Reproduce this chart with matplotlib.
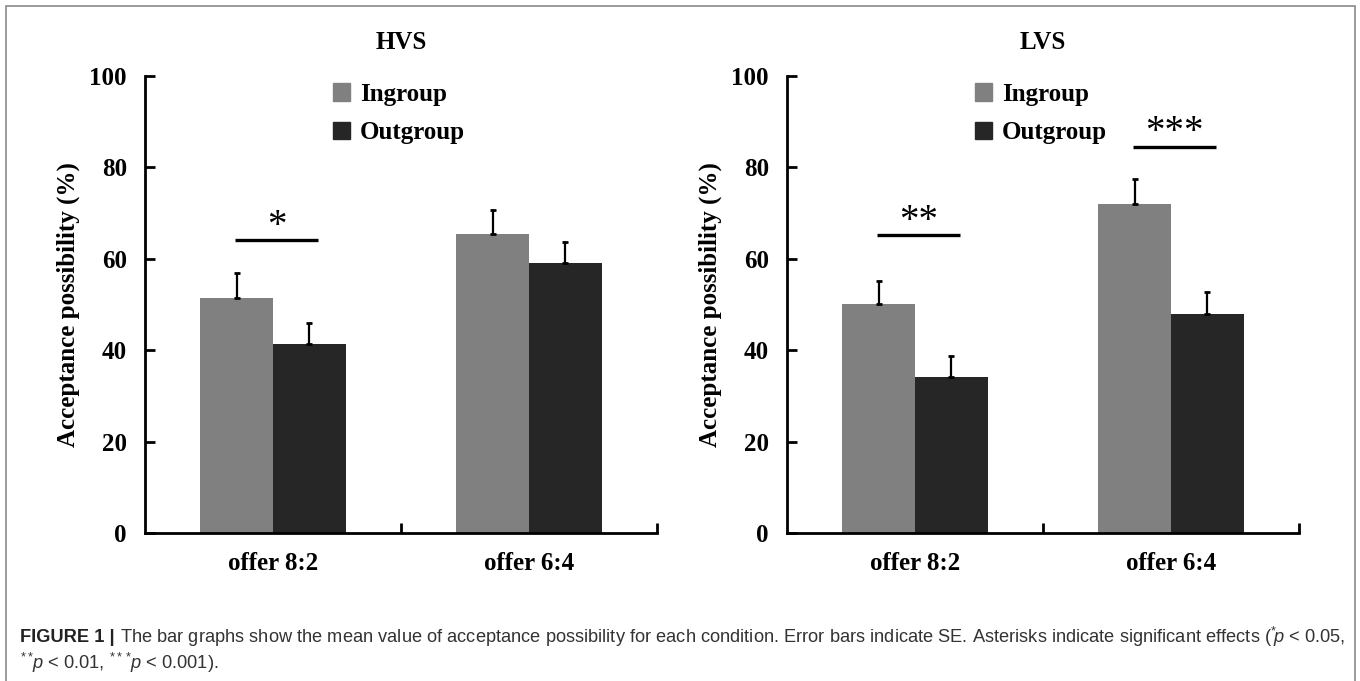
import matplotlib
matplotlib.use("Agg")
import matplotlib.pyplot as plt
from matplotlib.patches import Patch, Rectangle

# ---- data ----
offers = ["offer 8:2", "offer 6:4"]
groups = ["Ingroup", "Outgroup"]

hvs_in = [51.5, 65.4]
hvs_in_se = [5.5, 5.3]
hvs_out = [41.3, 59.1]
hvs_out_se = [4.6, 4.6]

lvs_in = [50.1, 72.0]
lvs_in_se = [5.0, 5.5]
lvs_out = [34.1, 47.9]
lvs_out_se = [4.6, 4.8]

# significance markers: (offer index, stars, height of the bar line)
hvs_sig = [(0, "*", 64.1)]
lvs_sig = [(0, "**", 65.2), (1, "***", 84.5)]

c_in = "#808080"
c_out = "#262626"

plt.rcParams["font.family"] = ["Liberation Serif"]
plt.rcParams["font.weight"] = "bold"
plt.rcParams["axes.labelweight"] = "bold"
plt.rcParams["mathtext.fontset"] = "custom"
plt.rcParams["mathtext.rm"] = "Liberation Sans:weight=normal"
plt.rcParams["mathtext.it"] = "Liberation Sans:style=italic:weight=normal"

fig = plt.figure(figsize=(13.6, 6.81), dpi=100)
W, H = 1360, 681


def panel(x0, title, v_in, se_in, v_out, se_out, sig):
    ax = fig.add_axes([x0 / W, (H - 533) / H, 512 / W, 457 / H])
    x = list(range(len(offers)))
    bw = 0.285
    xi = [p - bw / 2 for p in x]
    xo = [p + bw / 2 for p in x]
    ax.bar(xi, v_in, width=bw, color=c_in, label=groups[0], zorder=2)
    ax.bar(xo, v_out, width=bw, color=c_out, label=groups[1], zorder=2)
    ax.errorbar(xi, v_in, yerr=[[0] * len(v_in), se_in], fmt="none",
                ecolor="black", elinewidth=1.6, capsize=2.2, capthick=2, zorder=3)
    ax.errorbar(xo, v_out, yerr=[[0] * len(v_out), se_out], fmt="none",
                ecolor="black", elinewidth=1.6, capsize=2.2, capthick=2, zorder=3)

    for gi, stars, y in sig:
        ax.plot([gi - 0.15, gi + 0.175], [y, y], color="black", lw=2.4,
                solid_capstyle="butt")
        ax.text(gi + 0.015, y - 1.0, stars, ha="center", va="bottom",
                fontsize=28, fontweight="normal")

    ax.set_xlim(-0.5, 1.5)
    ax.set_ylim(0, 100)
    ax.set_yticks(range(0, 101, 20))
    ax.set_xticks(x)
    ax.set_xticklabels(offers)
    ax.set_xticks([0.5, 1.5], minor=True)
    for s in ["top", "right"]:
        ax.spines[s].set_visible(False)
    for s in ["left", "bottom"]:
        ax.spines[s].set_linewidth(2)
    ax.tick_params(axis="y", direction="in", length=7, width=2, pad=13,
                   labelsize=18)
    ax.tick_params(axis="x", which="major", length=0, pad=14, labelsize=18)
    ax.tick_params(axis="x", which="minor", direction="in", length=7, width=2)
    ax.set_ylabel("Acceptance possibility (%)", fontsize=18, labelpad=7)
    ax.text(0.5, 1.074, title, transform=ax.transAxes, ha="center",
            va="center", fontsize=18)

    handles = [Patch(color=c_in), Patch(color=c_out)]
    ax.legend(handles, groups, loc="center left", bbox_to_anchor=(0.367, 0.918),
              frameon=False, handlelength=0.68, handleheight=0.68,
              handletextpad=0.4, labelspacing=0.62, borderpad=0,
              borderaxespad=0, prop=dict(family="Liberation Serif",
                                         weight="bold", size=18))
    return ax


panel(145, "HVS", hvs_in, hvs_in_se, hvs_out, hvs_out_se, hvs_sig)
panel(787, "LVS", lvs_in, lvs_in_se, lvs_out, lvs_out_se, lvs_sig)

# frame around the figure
fig.patches.append(Rectangle((6 / W, -0.02), (1355 - 6) / W, 1.02 - 6 / H,
                             transform=fig.transFigure, fill=False,
                             edgecolor="#8a8a8a", lw=1.2))

# caption
cap_head = "FIGURE 1 | "
cap_line1 = ("The bar graphs show the mean value of acceptance possibility for each "
             "condition. Error bars indicate SE. Asterisks indicate significant "
             "effects (${}^{*}\\!p$ < 0.05,")
cap_line2 = "${}^{**}\\!p$ < 0.01, ${}^{***}\\!p$ < 0.001)."
cap_color = "#333333"

fs = 12
t_head = fig.text(20 / W, 1 - 637 / H, cap_head, family="Liberation Sans",
                  weight="bold", fontsize=fs, va="center", color="#222222")
t_body = fig.text(0, 1 - 637 / H, cap_line1, family="Liberation Sans",
                  weight="normal", fontsize=fs, va="center", color=cap_color)
r = fig.canvas.get_renderer()
w_tot = t_head.get_window_extent(r).width + t_body.get_window_extent(r).width
fs = fs * (1343 - 20) / w_tot
t_head.set_fontsize(fs)
t_body.set_fontsize(fs)
w_head = t_head.get_window_extent(r).width
t_body.set_x((20 + w_head) / W)
fig.text(20 / W, 1 - 663 / H, cap_line2, family="Liberation Sans",
         weight="normal", fontsize=fs, va="center", color=cap_color)

fig.savefig("out.png", dpi=100)
